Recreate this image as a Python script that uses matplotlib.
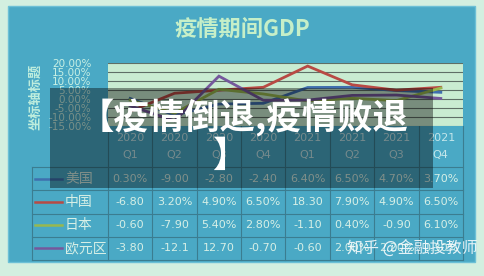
import matplotlib
matplotlib.use("Agg")
import matplotlib.pyplot as plt
from matplotlib.patches import Rectangle

plt.rcParams['font.family'] = ['Noto Sans CJK SC', 'DejaVu Sans']

# data as shown in the chart's data table
quarters = ["2020\nQ1", "2020\nQ2", "2020\nQ3", "2020\nQ4",
            "2021\nQ1", "2021\nQ2", "2021\nQ3", "2021\nQ4"]
countries = ["美国", "中国", "日本", "欧元区"]
us_cells = ["0.30%", "-9.00", "-2.80", "-2.40", "6.40%", "6.50%", "4.70%", "3.70%"]
cn_cells = ["-6.80", "3.20%", "4.90%", "6.50%", "18.30", "7.90%", "4.90%", "6.50%"]
jp_cells = ["-0.60", "-7.90", "5.40%", "2.80%", "-1.10", "0.40%", "-0.90", "6.10%"]
eu_cells = ["-3.80", "-12.1", "12.70", "-0.70", "-0.60", "2.00%", "2.20%", "0.30%"]
colors = ["#3f6fae", "#b84a44", "#98b84f", "#75589c"]

cells = [us_cells, cn_cells, jp_cells, eu_cells]
values = [[float(s.rstrip('%')) for s in row] for row in cells]

W, H = 485, 276
fig = plt.figure(figsize=(W / 100, H / 100), dpi=100)
fig.patch.set_facecolor("#d3efe0")

# background panel + table, in pixel coords
bg = fig.add_axes([0, 0, 1, 1], zorder=0)
bg.set_xlim(0, W)
bg.set_ylim(H, 0)
bg.axis("off")
bg.add_patch(Rectangle((8, 6), 467, 256, facecolor="#4aa9c5", edgecolor="#6cc0d6", lw=1))

bg.text(242, 30, "疫情期间GDP", ha="center", va="center", fontsize=16,
        fontweight="bold", color="#c6efc8")
bg.text(35, 97, "坐标轴标题", ha="center", va="center", rotation=90, fontsize=9.5,
        fontweight="bold", color="#bfeede")

x0, x1 = 108, 463
cw = (x1 - x0) / len(quarters)
top_t, r0, rh = 126, 167, 23.25
line_c = "#3b7d90"
for i in range(len(quarters) + 1):
    bg.plot([x0 + i * cw] * 2, [top_t, r0 + 4 * rh], color=line_c, lw=0.8)
bg.plot([32, 32], [r0, r0 + 4 * rh], color=line_c, lw=0.8)
for j in range(len(countries) + 1):
    bg.plot([32, x1], [r0 + j * rh] * 2, color=line_c, lw=0.8)

txt_c = "#d6efe6"
for i, q in enumerate(quarters):
    yr, qq = q.split("\n")
    cx = x0 + (i + 0.5) * cw
    bg.text(cx, 138, yr, ha="center", va="center", fontsize=8, color="#c4e6ea",
            family="DejaVu Sans")
    bg.text(cx, 155, qq, ha="center", va="center", fontsize=8, color="#c4e6ea",
            family="DejaVu Sans")

for j, name in enumerate(countries):
    cy = r0 + (j + 0.5) * rh
    bg.plot([35, 62], [cy, cy], color=colors[j], lw=1.8)
    bg.text(65, cy, name, ha="left", va="center", fontsize=10, color=txt_c)
    for i, s in enumerate(cells[j]):
        bg.text(x0 + (i + 0.5) * cw, cy, s, ha="center", va="center", fontsize=8,
                color=txt_c, family="DejaVu Sans")

# plot area
ax = fig.add_axes([x0 / W, 1 - top_t / H, (x1 - x0) / W, (top_t - 63) / H], zorder=1)
ax.set_facecolor("#c9ecd1")
for j, name in enumerate(countries):
    ax.plot(range(len(quarters)), values[j], color=colors[j], lw=2, label=name,
            solid_joinstyle="miter")
ax.set_xlim(-0.5, len(quarters) - 0.5)
ax.set_ylim(-15, 20)
ax.set_yticks(range(-15, 25, 5))
ax.set_yticklabels([f"{v:.2f}%" for v in range(-15, 25, 5)], family="DejaVu Sans")
ax.tick_params(axis="y", length=0, pad=12, labelsize=7.5, labelcolor="#c8f0e4")
ax.set_xticks([])
ax.grid(axis="y", color="#5f6f66", lw=0.8)
ax.set_axisbelow(True)
for sp in ax.spines.values():
    sp.set_visible(False)

# dark banner with caption and watermark on top
top = fig.add_axes([0, 0, 1, 1], zorder=10)
top.set_xlim(0, W)
top.set_ylim(H, 0)
top.axis("off")
top.patch.set_alpha(0)
top.add_patch(Rectangle((50, 88), 383, 100, facecolor="black", alpha=0.4, lw=0))
top.text(244, 118, "【疫情倒退,疫情败退", ha="center", va="center", fontsize=25.5,
         fontweight="bold", color="white")
top.text(230, 156, "】", ha="center", va="center", fontsize=25.5,
         fontweight="bold", color="white")
top.text(412, 249, "知乎 @金融投教师", ha="center", va="center", fontsize=11.5,
         color="white", alpha=0.85)

fig.savefig("out.png", dpi=100, facecolor=fig.get_facecolor())
